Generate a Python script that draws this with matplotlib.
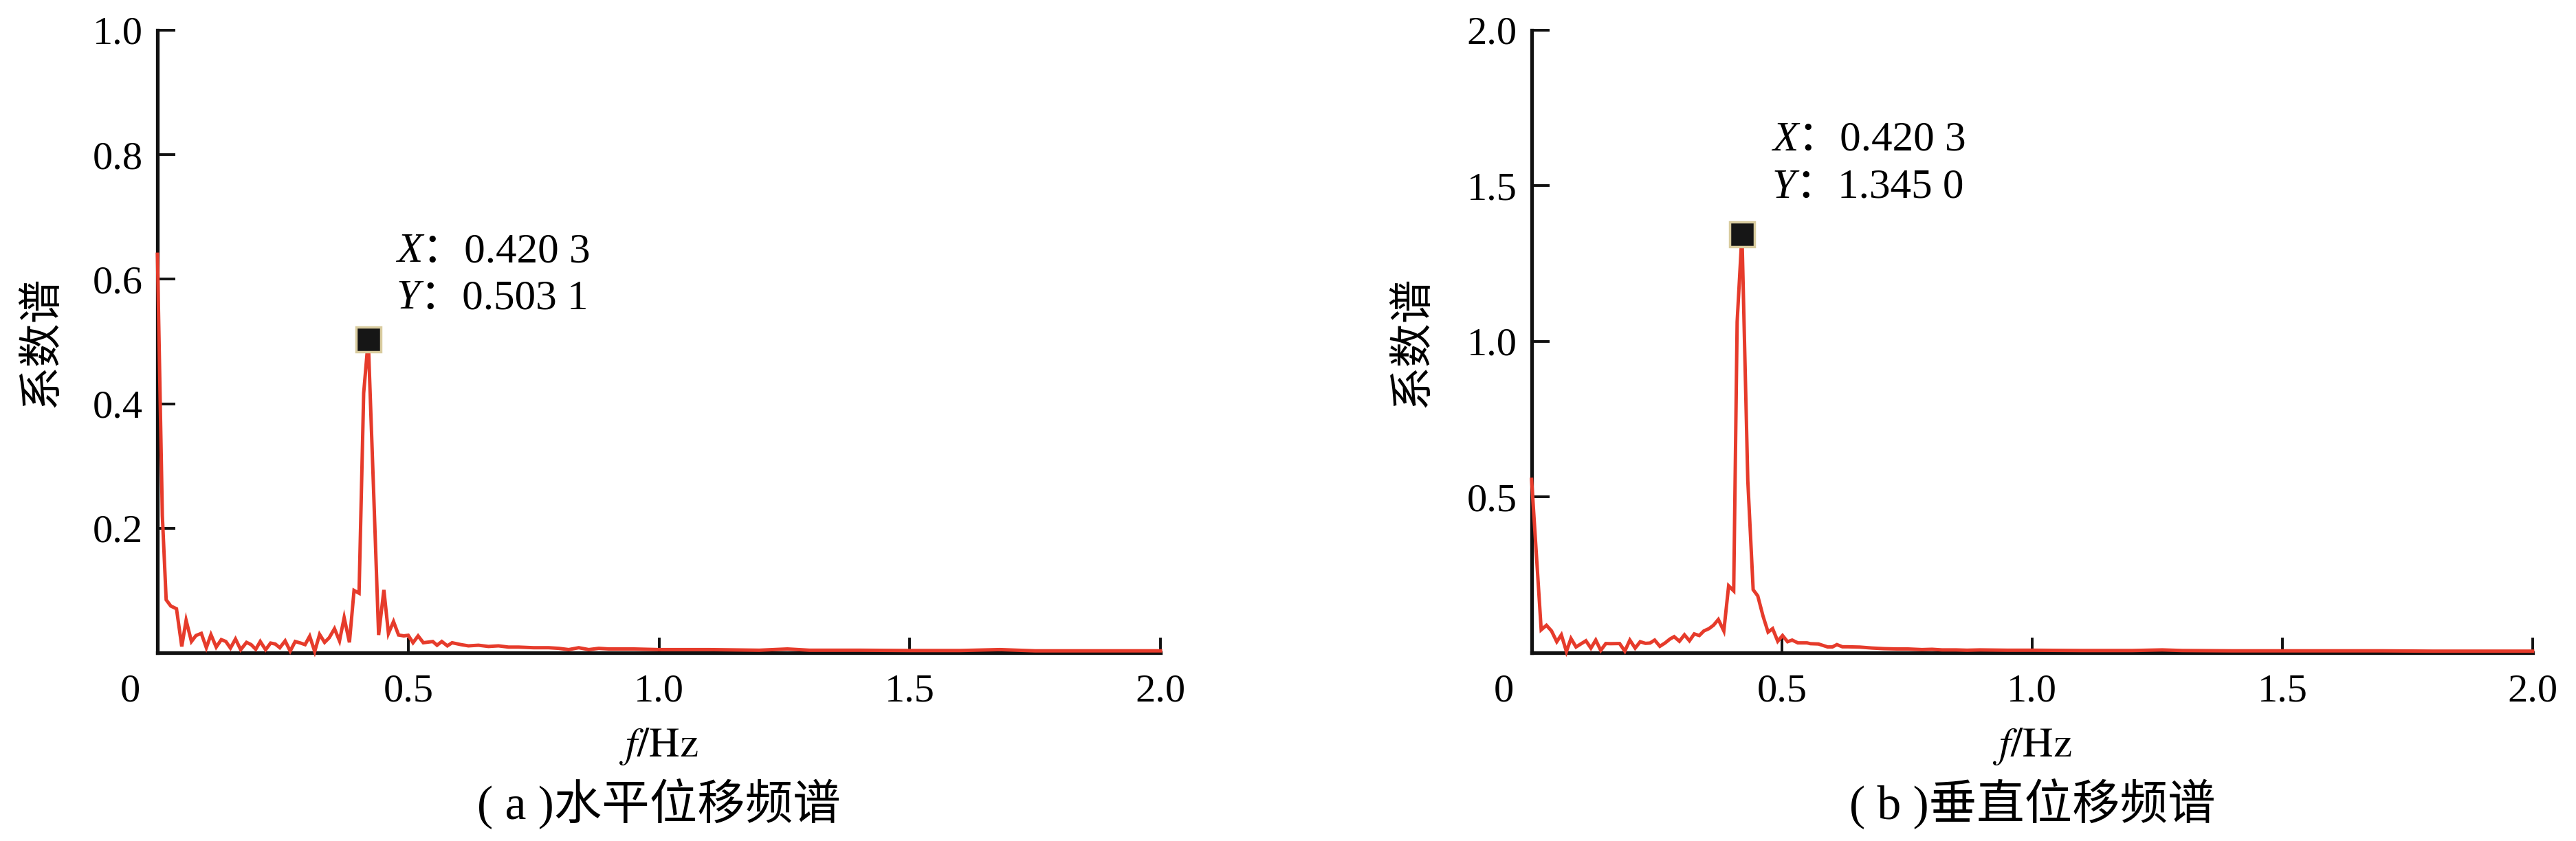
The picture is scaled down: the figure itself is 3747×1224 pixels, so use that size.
#!/usr/bin/env python3
"""
Displacement spectra of the monitored point:
(a) horizontal, (b) vertical, with the dominant peak marked.
"""

import matplotlib
matplotlib.use('Agg')
import matplotlib.pyplot as plt

plt.rcParams['font.family'] = ['Liberation Serif', 'Noto Sans CJK SC']
plt.rcParams['mathtext.fontset'] = 'stix'

# ---- data ----
h_freq = [0.0, 0.0098, 0.0174, 0.0266, 0.038, 0.0485, 0.0572, 0.0678, 0.0769, 0.0875,
          0.0975, 0.1067, 0.1172, 0.1273, 0.1364, 0.1456, 0.1556, 0.166, 0.1776, 0.1868,
          0.196, 0.205, 0.2157, 0.2257, 0.2349, 0.244, 0.2546, 0.2647, 0.2747, 0.2853,
          0.2944, 0.3036, 0.3136, 0.3233, 0.3333, 0.3425, 0.353, 0.363, 0.3723, 0.3828,
          0.392, 0.402, 0.4112, 0.4203, 0.431, 0.441, 0.4515, 0.4606, 0.4707, 0.4808,
          0.4913, 0.5, 0.5096, 0.5197, 0.5302, 0.549, 0.5575, 0.567, 0.578, 0.5875,
          0.605, 0.62, 0.64, 0.66, 0.68, 0.70, 0.72, 0.75, 0.78, 0.80,
          0.82, 0.84, 0.86, 0.88, 0.90, 0.95, 1.0, 1.1, 1.2, 1.256,
          1.3, 1.4, 1.5, 1.6, 1.68, 1.75, 1.85, 2.0]
h_amp = [0.64, 0.22, 0.085, 0.075, 0.0706, 0.010, 0.052, 0.018, 0.0276, 0.031,
         0.008, 0.029, 0.009, 0.021, 0.018, 0.0074, 0.022, 0.0048, 0.0166, 0.013,
         0.0055, 0.018, 0.0048, 0.0155, 0.014, 0.008, 0.019, 0.0026, 0.018, 0.0155,
         0.013, 0.0265, 0.002, 0.0294, 0.0166, 0.024, 0.0386, 0.019, 0.0563, 0.0166,
         0.100, 0.0956, 0.417, 0.5031, 0.26, 0.0284, 0.1009, 0.031, 0.050, 0.0284,
         0.027, 0.028, 0.016, 0.027, 0.016, 0.018, 0.012, 0.018, 0.011, 0.016,
         0.013, 0.011, 0.012, 0.010, 0.011, 0.009, 0.009, 0.008, 0.008, 0.007,
         0.005, 0.008, 0.005, 0.007, 0.006, 0.006, 0.005, 0.005, 0.004, 0.006,
         0.004, 0.004, 0.0035, 0.0035, 0.005, 0.003, 0.003, 0.003]

v_freq = [0.0, 0.0192, 0.0297, 0.0398, 0.0503, 0.0595, 0.0696, 0.0787, 0.0888, 0.1085,
          0.1185, 0.1282, 0.1382, 0.1483, 0.158, 0.1758, 0.1863, 0.1964, 0.2069, 0.217,
          0.2275, 0.2366, 0.2459, 0.2563, 0.2665, 0.2765, 0.2848, 0.2953, 0.3054, 0.3154,
          0.325, 0.3351, 0.3443, 0.3544, 0.3635, 0.3731, 0.3841, 0.3937, 0.4038, 0.4107,
          0.4203, 0.432, 0.4427, 0.4519, 0.4624, 0.4725, 0.4816, 0.4918, 0.5014, 0.5114,
          0.5206, 0.532, 0.5503, 0.557, 0.5732, 0.5915, 0.601, 0.61, 0.621, 0.632,
          0.656, 0.68, 0.704, 0.73, 0.752, 0.78, 0.80, 0.82, 0.848, 0.87,
          0.896, 0.95, 1.0, 1.1, 1.2, 1.26, 1.3, 1.4, 1.5, 1.6,
          1.7, 1.8, 2.0]
v_amp = [0.557, 0.0736, 0.088, 0.070, 0.0353, 0.0574, 0.0037, 0.0456, 0.0184, 0.0383,
         0.0147, 0.0405, 0.0074, 0.0295, 0.029, 0.0295, 0.0051, 0.0405, 0.0147, 0.0353,
         0.030, 0.031, 0.0405, 0.0206, 0.031, 0.044, 0.0515, 0.0368, 0.0574, 0.0383,
         0.0603, 0.0552, 0.070, 0.0773, 0.0883, 0.1067, 0.070, 0.2148, 0.1987, 1.063,
         1.345, 0.5525, 0.2024, 0.1825, 0.1177, 0.0662, 0.0773, 0.0368, 0.0552, 0.0353,
         0.0405, 0.0316, 0.0316, 0.029, 0.028, 0.0185, 0.0185, 0.026, 0.019, 0.019,
         0.018, 0.015, 0.013, 0.012, 0.012, 0.010, 0.011, 0.009, 0.009, 0.008,
         0.009, 0.008, 0.008, 0.007, 0.007, 0.009, 0.007, 0.006, 0.006, 0.006,
         0.006, 0.005, 0.005]

# marked peaks (data tips)
peak_x = [0.4203, 0.4203]
peak_y = [0.5031, 1.3450]

captions = ['( a )水平位移频谱', '( b )垂直位移频谱']
y_limits = [1.0, 2.0]
y_ticks = [[0.2, 0.4, 0.6, 0.8, 1.0], [0.5, 1.0, 1.5, 2.0]]
x_ticks = [0.5, 1.0, 1.5, 2.0]

LINE_COLOR = '#E63B2B'
FS_TICK = 42   # tick labels
FS = 44        # readout / axis label
FS_CJK = 46    # y label
FS_CAP = 50    # caption


def fmt_tip(v):
    """0.4203 -> '0.420 3' (journal-style digit grouping)"""
    s = f"{v:.4f}"
    return s[:-1] + ' ' + s[-1]


def add_datatip(fig, ax, x, y, dx, base_x, base_y):
    """Black square on the peak plus the X/Y readout above-right of it"""
    ax.plot([x], [y], linestyle='none', marker='s', markersize=26,
            markerfacecolor='#161616', markeredgecolor='#d9cc9f',
            markeredgewidth=2.5, zorder=6, clip_on=False)
    renderer = fig.canvas.get_renderer()
    for name, val, off in (('X', x, base_x), ('Y', y, base_y)):
        t = ax.annotate(name, xy=(x, y), xytext=(dx, off), textcoords='offset pixels',
                        fontsize=FS, style='italic', ha='left', va='baseline',
                        family='Liberation Serif')
        w = t.get_window_extent(renderer).width
        ax.annotate('：' + fmt_tip(val), xy=(x, y), xytext=(dx + w, off),
                    textcoords='offset pixels', fontsize=FS, ha='left',
                    va='baseline')


def style_axes(ax, ymax, yticks):
    ax.set_xlim(0, 2.0)
    ax.set_ylim(0, ymax)
    for side in ('top', 'right'):
        ax.spines[side].set_visible(False)
    for side in ('left', 'bottom'):
        ax.spines[side].set_linewidth(3.8)
        ax.spines[side].set_color('#111111')
    ax.set_xticks(x_ticks)
    ax.set_xticklabels([f"{t:.1f}" for t in x_ticks])
    ax.set_yticks(yticks)
    ax.set_yticklabels([f"{t:.1f}" for t in yticks])
    ax.tick_params(axis='both', direction='in', width=2.8, color='#111111',
                   labelsize=FS_TICK)
    ax.tick_params(axis='x', length=16, pad=22)
    ax.tick_params(axis='y', length=19, pad=15)
    # shared origin label sitting below-left of the corner
    ax.annotate('0', xy=(0, 0), xytext=(-40, -57), textcoords='offset pixels',
                ha='center', va='center', fontsize=FS_TICK)


def main():
    fig = plt.figure(figsize=(37.48, 12.24), dpi=100)
    ax_h = fig.add_axes([0.0611, 0.2239, 0.3893, 0.7402])
    ax_v = fig.add_axes([0.5944, 0.2239, 0.3885, 0.7402])

    panels = [(ax_h, h_freq, h_amp, 41, 113, 45, -0.116),
              (ax_v, v_freq, v_amp, 44, 122, 53, -0.120)]

    for i, (ax, f, a, dx, bx, by, ylab_x) in enumerate(panels):
        ax.plot(f, a, color=LINE_COLOR, linewidth=3.6, solid_joinstyle='miter',
                zorder=3, clip_on=False)
        style_axes(ax, y_limits[i], y_ticks[i])

        ax.text(0.5, -0.151, r'$f/\mathrm{Hz}$', transform=ax.transAxes,
                ha='center', va='center', fontsize=FS)
        ax.text(0.5, -0.243, captions[i], transform=ax.transAxes,
                ha='center', va='center', fontsize=FS_CAP)
        ax.text(ylab_x, 0.5, '系数谱', transform=ax.transAxes, rotation=90,
                ha='center', va='center', fontsize=FS_CJK,
                family='Noto Sans CJK SC')

        add_datatip(fig, ax, peak_x[i], peak_y[i], dx, bx, by)

    fig.savefig('out.png', dpi=100)


if __name__ == "__main__":
    main()
